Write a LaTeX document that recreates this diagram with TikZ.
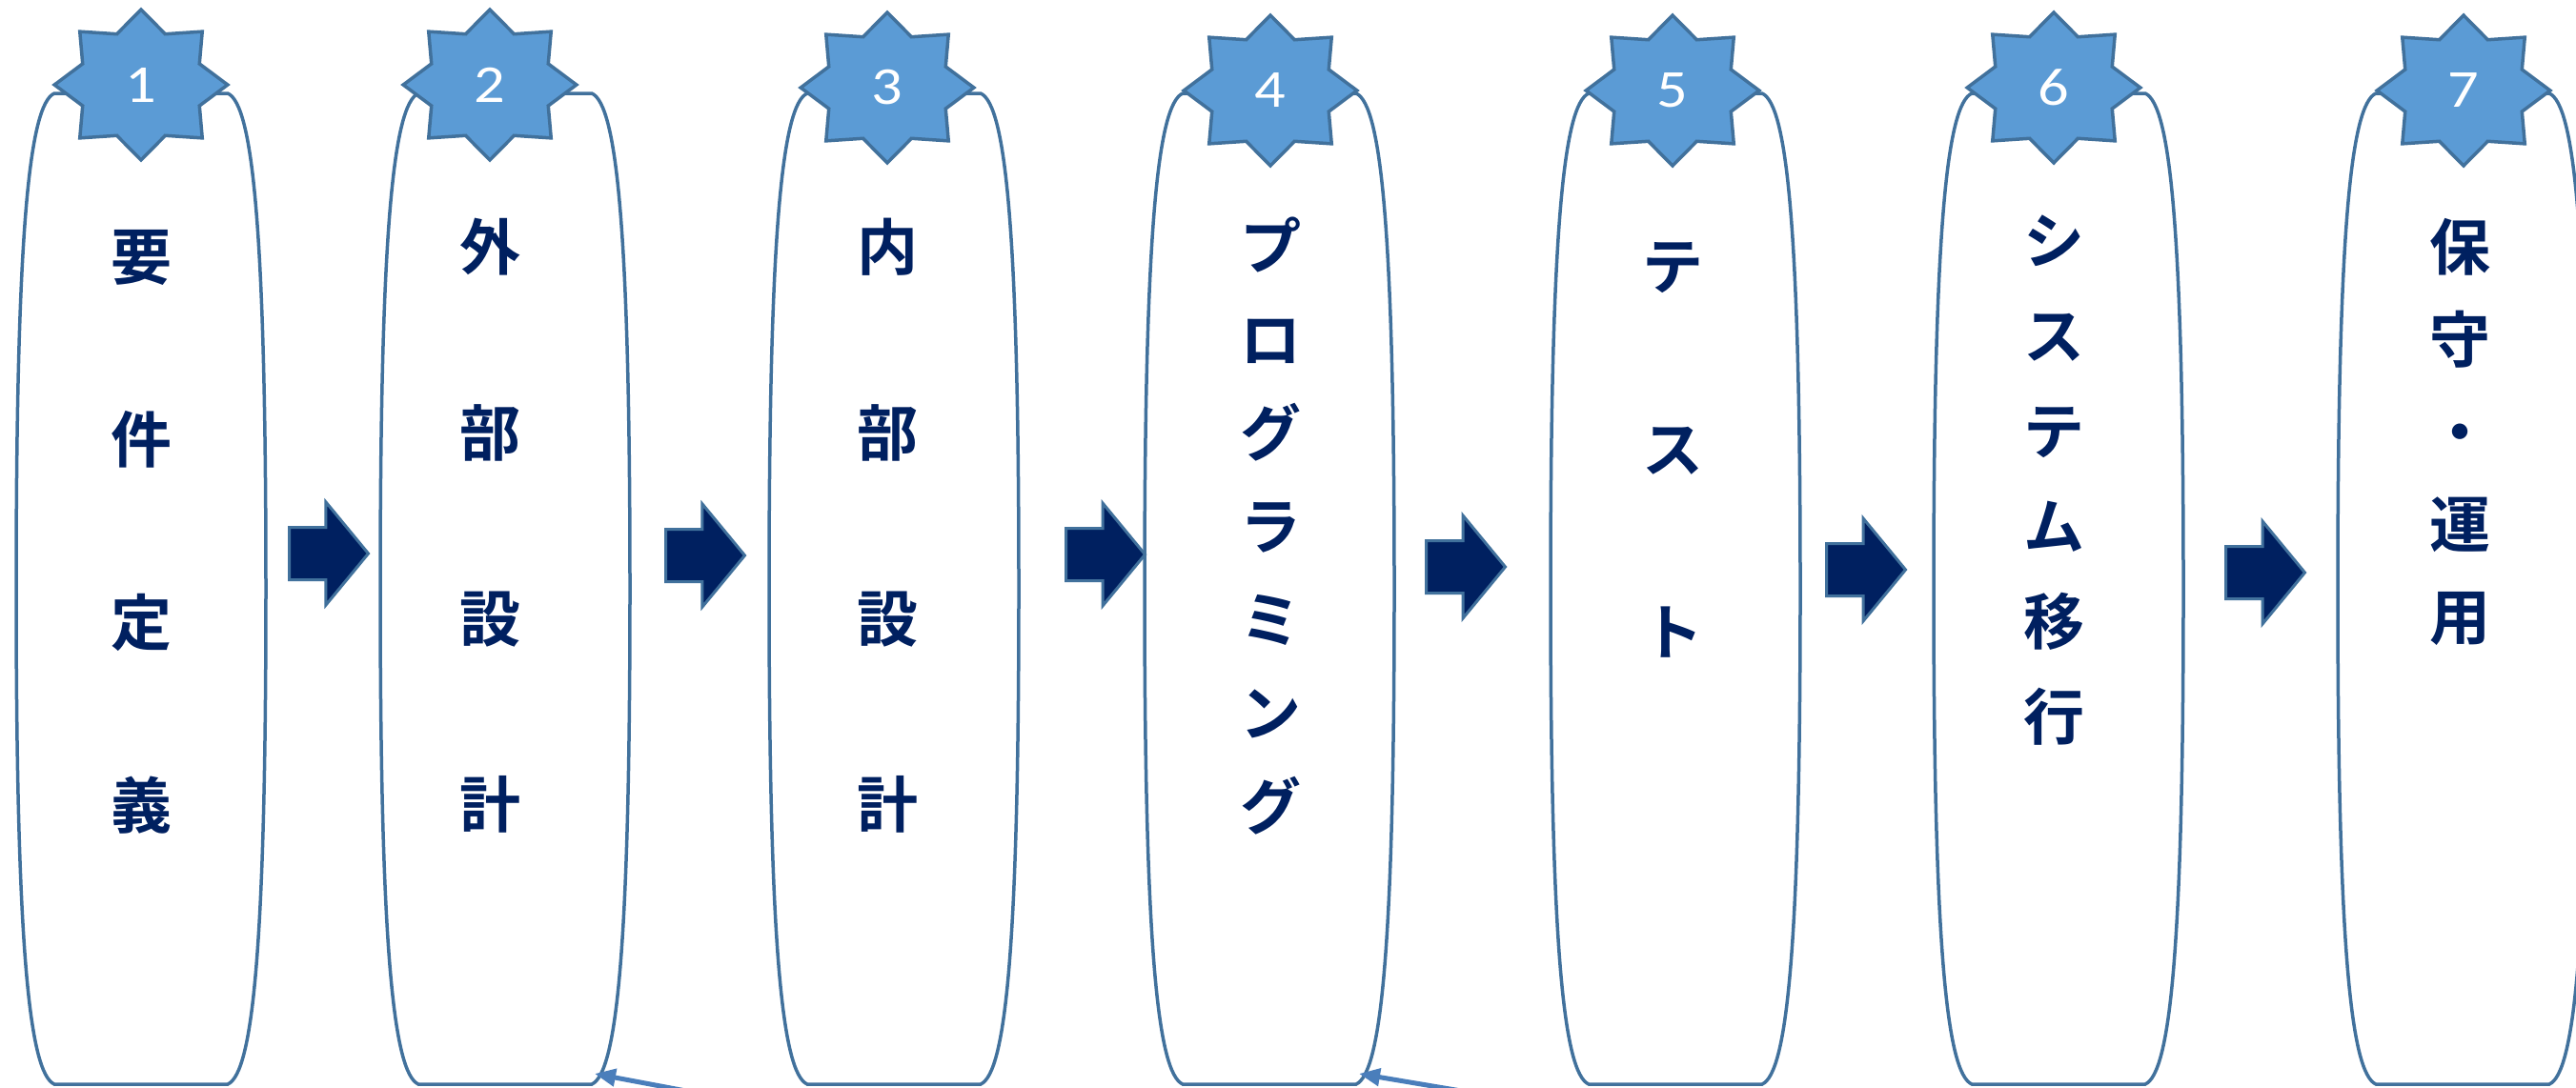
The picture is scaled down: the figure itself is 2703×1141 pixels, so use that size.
\documentclass[tikz,border=0pt]{standalone}
\usepackage{fontspec}
\usepackage{tikz}
\usetikzlibrary{shapes.geometric,shapes.arrows,arrows.meta}

\newfontfamily\jpfont{Noto Sans CJK JP}[BoldFont={* Bold}]
\newfontfamily\numfont{Carlito}

\definecolor{navy}{HTML}{002060}
\definecolor{starfill}{HTML}{5B9BD5}
\definecolor{edgeblue}{HTML}{41719C}
\definecolor{feedblue}{HTML}{4A7EBB}

\tikzset{
  numstar/.style={star, star points=8, star point ratio=1.37, minimum size=158pt,
    inner sep=0pt, xscale=1.15, draw=edgeblue, fill=starfill, line width=3.5pt,
    text=white, font=\numfont\fontsize{56}{56}\selectfont},
  kana/.style={text=navy, inner sep=0pt, text height=56pt, text depth=8pt,
    font=\jpfont\bfseries\fontsize{64}{64}\selectfont},
  steparrow/.style={single arrow, draw=edgeblue, fill=navy, line width=3pt,
    inner sep=0pt, inner ysep=26pt, minimum height=83pt,
    single arrow head extend=26.5pt, single arrow tip angle=101, anchor=tail},
  feedarrow/.style={feedblue, line width=5pt, -{Triangle[length=22pt,width=18pt]}},
  phasecol/.pic={
    \draw[edgeblue, line width=3.5pt, fill=white]
      (-91,98) -- (91,98) .. controls (118,110) and (131,250) .. (131,618)
      .. controls (131,986) and (118,1126) .. (91,1138) -- (-91,1138)
      .. controls (-118,1126) and (-131,986) .. (-131,618)
      .. controls (-131,250) and (-118,110) .. (-91,98) -- cycle;
    \coordinate (-foot) at (94,1127);
  }
}

\begin{document}
\begin{tikzpicture}[x=1pt, y=-1pt]
\useasboundingbox (0,0) rectangle (2703,1141);
\clip (0,0) rectangle (2703,1141);

% columns
\pic (c1) at (148,0) {phasecol};
\pic (c2) at (530,0) {phasecol};
\pic (c3) at (938,0) {phasecol};
\pic (c4) at (1332,0) {phasecol};
\pic (c5) at (1758,0) {phasecol};
\pic (c6) at (2160,0) {phasecol};
\pic (c7) at (2584,0) {phasecol};

% arrows between the phases
\node[steparrow] (a1) at (302,581) {};
\node[steparrow] (a2) at (697,583) {};
\node[steparrow] (a3) at (1117,582) {};
\node[steparrow] (a4) at (1495,595) {};
\node[steparrow] (a5) at (1915,598) {};
\node[steparrow] (a6) at (2334,601) {};

% numbers
\node[numstar] (s1) at (148,89) {1};
\node[numstar] (s2) at (514,89) {2};
\node[numstar] (s3) at (931,92) {3};
\node[numstar] (s4) at (1333,95) {4};
\node[numstar] (s5) at (1755,95) {5};
\node[numstar] (s6) at (2155,92) {6};
\node[numstar] (s7) at (2585,95) {7};

% phase names
\foreach \ch [count=\k] in {要,件,定,義}
  \node[kana] (t1-\k) at (148, {269+192*(\k-1)}) {\ch};
\foreach \ch [count=\k] in {外,部,設,計}
  \node[kana] (t2-\k) at (514, {259+195*(\k-1)}) {\ch};
\foreach \ch [count=\k] in {内,部,設,計}
  \node[kana] (t3-\k) at (931, {259+195*(\k-1)}) {\ch};
\foreach \ch [count=\k] in {プ,ロ,グ,ラ,ミ,ン,グ}
  \node[kana] (t4-\k) at (1333, {258+98*(\k-1)}) {\ch};
\foreach \ch [count=\k] in {テ,ス,ト}
  \node[kana] (t5-\k) at (1755, {279+192*(\k-1)}) {\ch};
\foreach \ch [count=\k] in {シ,ス,テ,ム,移,行}
  \node[kana] (t6-\k) at (2155, {252+100*(\k-1)}) {\ch};
\foreach \ch [count=\k] in {保,守,・,運,用}
  \node[kana] (t7-\k) at (2581, {259+97*(\k-1)}) {\ch};

% feedback arrows at the bottom
\coordinate (f2) at (741,1149);
\coordinate (f4) at (1545,1147);
\draw[feedarrow] (f2) -- (c2-foot);
\draw[feedarrow] (f4) -- (c4-foot);
\end{tikzpicture}
\end{document}
